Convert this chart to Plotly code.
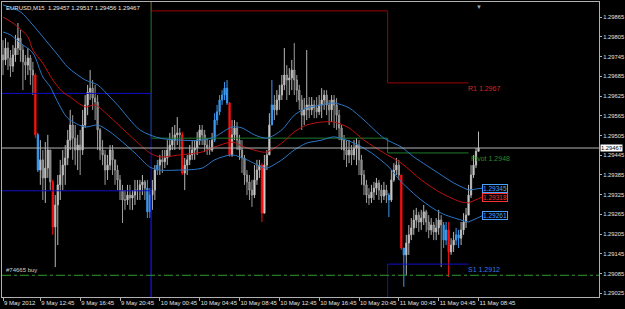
import plotly.graph_objects as go

# ---------------- data (EURUSD M15, bar 0 = 9 May 2012 09:00) ----------------
first_open = 1.29750
closes = [1.29735,1.29771,1.29741,1.29716,1.29750,1.29771,1.29801,1.29765,1.29729,1.29719,
          1.29741,1.29704,1.29689,1.29507,1.29400,1.29431,1.29376,1.29406,1.29461,1.29364,
          1.29227,1.29294,1.29355,1.29385,1.29415,1.29437,1.29491,1.29537,1.29497,1.29461,
          1.29476,1.29461,1.29537,1.29598,1.29637,1.29649,1.29619,1.29607,1.29522,1.29461,
          1.29446,1.29400,1.29415,1.29461,1.29431,1.29400,1.29370,1.29339,1.29309,1.29309,
          1.29324,1.29315,1.29324,1.29339,1.29339,1.29355,1.29364,1.29345,1.29273,1.29324,
          1.29339,1.29400,1.29415,1.29431,1.29425,1.29437,1.29461,1.29476,1.29491,1.29507,
          1.29513,1.29507,1.29391,1.29415,1.29431,1.29446,1.29461,1.29467,1.29491,1.29522,
          1.29507,1.29476,1.29467,1.29461,1.29491,1.29552,1.29577,1.29613,1.29628,1.29649,
          1.29604,1.29446,1.29507,1.29528,1.29491,1.29461,1.29437,1.29385,1.29364,1.29339,
          1.29324,1.29370,1.29400,1.29415,1.29269,1.29415,1.29446,1.29537,1.29598,1.29583,
          1.29613,1.29628,1.29659,1.29689,1.29674,1.29680,1.29704,1.29674,1.29643,1.29613,
          1.29567,1.29583,1.29598,1.29583,1.29598,1.29589,1.29577,1.29598,1.29613,1.29628,
          1.29598,1.29583,1.29613,1.29598,1.29567,1.29528,1.29491,1.29461,1.29446,1.29461,
          1.29446,1.29467,1.29476,1.29431,1.29385,1.29355,1.29324,1.29315,1.29333,1.29345,
          1.29361,1.29339,1.29321,1.29339,1.29324,1.29309,1.29370,1.29400,1.29415,1.29385,
          1.29163,1.29142,1.29178,1.29203,1.29224,1.29248,1.29263,1.29242,1.29254,1.29273,
          1.29242,1.29218,1.29233,1.29212,1.29224,1.29248,1.29233,1.29187,1.29218,1.29151,
          1.29172,1.29187,1.29203,1.29193,1.29218,1.29242,1.29263,1.29324,1.29385,1.29415,
          1.29457,1.29467]
highs = [1.29795,1.29801,1.29789,1.29765,1.29780,1.29811,1.29847,1.29826,1.29780,1.29750,
         1.29771,1.29750,1.29729,1.29695,1.29513,1.29491,1.29461,1.29485,1.29507,1.29461,
         1.29370,1.29324,1.29385,1.29431,1.29461,1.29476,1.29522,1.29583,1.29567,1.29537,
         1.29507,1.29522,1.29583,1.29628,1.29659,1.29704,1.29674,1.29659,1.29628,1.29528,
         1.29491,1.29461,1.29446,1.29476,1.29476,1.29431,1.29415,1.29385,1.29355,1.29339,
         1.29355,1.29355,1.29339,1.29370,1.29370,1.29370,1.29385,1.29370,1.29370,1.29345,
         1.29370,1.29415,1.29431,1.29446,1.29461,1.29461,1.29491,1.29513,1.29531,1.29537,
         1.29561,1.29528,1.29516,1.29437,1.29446,1.29476,1.29491,1.29491,1.29516,1.29537,
         1.29537,1.29522,1.29497,1.29491,1.29513,1.29573,1.29598,1.29628,1.29643,1.29668,
         1.29674,1.29607,1.29552,1.29552,1.29546,1.29507,1.29491,1.29446,1.29400,1.29385,
         1.29370,1.29415,1.29431,1.29431,1.29421,1.29446,1.29461,1.29573,1.29674,1.29628,
         1.29643,1.29659,1.29689,1.29771,1.29719,1.29710,1.29735,1.29786,1.29689,1.29659,
         1.29628,1.29619,1.29765,1.29622,1.29622,1.29613,1.29622,1.29628,1.29649,1.29643,
         1.29643,1.29613,1.29628,1.29628,1.29619,1.29583,1.29537,1.29507,1.29491,1.29491,
         1.29476,1.29491,1.29497,1.29491,1.29446,1.29400,1.29370,1.29345,1.29355,1.29364,
         1.29376,1.29370,1.29355,1.29364,1.29355,1.29330,1.29400,1.29421,1.29437,1.29431,
         1.29385,1.29163,1.29203,1.29233,1.29254,1.29279,1.29285,1.29273,1.29279,1.29294,
         1.29279,1.29263,1.29254,1.29242,1.29254,1.29279,1.29263,1.29242,1.29242,1.29242,
         1.29193,1.29212,1.29224,1.29218,1.29242,1.29269,1.29285,1.29355,1.29415,1.29446,
         1.29467,1.29517]
lows = [1.29689,1.29719,1.29704,1.29683,1.29698,1.29729,1.29750,1.29729,1.29643,1.29674,
        1.29689,1.29659,1.29628,1.29497,1.29394,1.29355,1.29309,1.29300,1.29376,1.29339,
        1.29203,1.29105,1.29172,1.29309,1.29339,1.29355,1.29415,1.29461,1.29431,1.29415,
        1.29400,1.29385,1.29446,1.29528,1.29567,1.29613,1.29583,1.29552,1.29461,1.29431,
        1.29415,1.29355,1.29370,1.29400,1.29385,1.29355,1.29339,1.29309,1.29239,1.29279,
        1.29294,1.29279,1.29279,1.29294,1.29309,1.29309,1.29324,1.29309,1.29254,1.29254,
        1.29279,1.29309,1.29385,1.29385,1.29391,1.29406,1.29415,1.29440,1.29461,1.29461,
        1.29476,1.29461,1.29385,1.29339,1.29385,1.29415,1.29431,1.29431,1.29446,1.29476,
        1.29476,1.29455,1.29446,1.29446,1.29455,1.29485,1.29537,1.29567,1.29598,1.29613,
        1.29598,1.29440,1.29440,1.29491,1.29461,1.29431,1.29391,1.29355,1.29324,1.29309,
        1.29288,1.29315,1.29355,1.29376,1.29242,1.29269,1.29400,1.29446,1.29537,1.29552,
        1.29567,1.29583,1.29613,1.29643,1.29613,1.29628,1.29643,1.29628,1.29607,1.29583,
        1.29522,1.29537,1.29552,1.29558,1.29567,1.29558,1.29558,1.29567,1.29558,1.29583,
        1.29567,1.29537,1.29546,1.29528,1.29522,1.29491,1.29461,1.29431,1.29409,1.29421,
        1.29415,1.29431,1.29415,1.29385,1.29355,1.29324,1.29300,1.29294,1.29300,1.29309,
        1.29324,1.29309,1.29300,1.29309,1.29300,1.29257,1.29303,1.29364,1.29385,1.29370,
        1.29157,1.29045,1.29081,1.29142,1.29187,1.29203,1.29224,1.29212,1.29218,1.29233,
        1.29212,1.29193,1.29203,1.29187,1.29187,1.29203,1.29105,1.29163,1.29172,1.29075,
        1.29142,1.29151,1.29172,1.29163,1.29172,1.29203,1.29224,1.29263,1.29315,1.29376,
        1.29406,1.29456]
red_bars = [13, 20, 72, 91, 104, 160, 179]
blue_bars = [14, 58, 59, 62, 85, 86, 87, 88, 89, 90, 108, 155, 161, 177, 178, 182, 183]

# envelope lines (bar index, price)
upper_idx = [0,7,12,16,22,26,33,38,43,46,55,63,71,80,85,92,96,101,106,112,117,122,128,133,139,145,153,160,165,173,181,187]
upper_val = [1.29902,1.29881,1.29841,1.29805,1.29750,1.29713,1.29674,1.29659,1.29622,1.29598,
             1.29522,1.29497,1.29491,1.29491,1.29501,1.29531,1.29528,1.29507,1.29497,1.29522,
             1.29567,1.29589,1.29598,1.29604,1.29589,1.29552,1.29497,1.29470,1.29440,1.29400,
             1.29361,1.29339]
mid_idx = [0,4,10,12,16,20,24,27,33,37,43,53,59,63,71,80,85,92,97,104,106,112,117,122,128,133,139,145,153,160,168,176,184,187]
mid_val = [1.29865,1.29847,1.29805,1.29765,1.29725,1.29674,1.29637,1.29622,1.29592,1.29598,
           1.29561,1.29491,1.29452,1.29440,1.29446,1.29455,1.29470,1.29485,1.29470,1.29455,
           1.29455,1.29482,1.29516,1.29537,1.29546,1.29546,1.29528,1.29491,1.29452,1.29421,
           1.29370,1.29330,1.29303,1.29300]
lower_idx = [0,3,7,12,16,19,21,26,33,38,43,53,59,63,71,80,85,92,98,104,106,112,117,122,128,133,141,148,155,160,168,176,184,187]
lower_val = [1.29820,1.29811,1.29786,1.29756,1.29683,1.29653,1.29622,1.29558,1.29531,1.29537,
             1.29516,1.29452,1.29409,1.29400,1.29400,1.29406,1.29431,1.29446,1.29431,1.29409,
             1.29406,1.29431,1.29461,1.29482,1.29491,1.29501,1.29482,1.29452,1.29409,1.29364,
             1.29309,1.29269,1.29248,1.29242]
band_labels = [1.29345, 1.29318, 1.29261]

# daily pivot levels (None = off the visible price range)
day_edges = [-1, 59.5, 154.5, 187]
r1_vals = [None, 1.29884, 1.29665]
pivot_vals = [None, 1.29497, 1.29452]
s1_vals = [1.29633, None, 1.29114]
s2_vals = [1.29337, None, None]
r1_text, pivot_text, s1_text = "R1 1.2967", "Pivot 1.2948", "S1 1.2912"
order_price = 1.2908
order_text = "#74665 buy"

x_ticks = [0, 15, 31, 47, 63, 79, 95, 111, 127, 143, 159, 175, 191]
x_labels = ["9 May 2012", "9 May 12:45", "9 May 16:45", "9 May 20:45", "10 May 00:45",
            "10 May 04:45", "10 May 08:45", "10 May 12:45", "10 May 16:45", "10 May 20:45",
            "11 May 00:45", "11 May 04:45", "11 May 08:45"]
y_ticks = [1.29025, 1.29085, 1.29145, 1.29205, 1.29265, 1.29325, 1.29385, 1.29445,
           1.29505, 1.29565, 1.29625, 1.29685, 1.29745, 1.29805, 1.29865]

# ---------------- figure ----------------
opens = [first_open] + closes[:-1]
n = len(closes)
idx = list(range(n))
FONT = "Liberation Sans"
Y_LO, Y_HI = 1.29014, 1.29911
OFF_LO, OFF_HI = 1.2890, 1.3005

fig = go.Figure()

def subset(ids):
    return dict(x=[idx[i] for i in ids], open=[opens[i] for i in ids], high=[highs[i] for i in ids],
                low=[lows[i] for i in ids], close=[closes[i] for i in ids])

normal = [i for i in idx if i not in red_bars and i not in blue_bars]
fig.add_trace(go.Candlestick(**subset(normal), whiskerwidth=0,
              increasing=dict(line=dict(color="#b8b8b8", width=1), fillcolor="#e6e6e6"),
              decreasing=dict(line=dict(color="#9c9c9c", width=1), fillcolor="#6a6a6a"),
              hoverinfo="skip", showlegend=False))
for ids, col in ((red_bars, "#ff1010"), (blue_bars, "#3a9af0")):
    fig.add_trace(go.Candlestick(**subset(ids), whiskerwidth=0,
                  increasing=dict(line=dict(color=col, width=1), fillcolor=col),
                  decreasing=dict(line=dict(color=col, width=1), fillcolor=col),
                  hoverinfo="skip", showlegend=False))

def step_line(vals, missing):
    xs, ys = [], []
    for k, v in enumerate(vals):
        v = missing if v is None else v
        xs += [day_edges[k], day_edges[k + 1]]
        ys += [v, v]
    return xs, ys

for vals, miss, col in ((r1_vals, OFF_HI, "#a00000"), (pivot_vals, OFF_HI, "#1f7a2a"),
                        (s1_vals, OFF_LO, "#1010c8"), (s2_vals, OFF_LO, "#1010c8")):
    xs, ys = step_line(vals, miss)
    fig.add_trace(go.Scatter(x=xs, y=ys, mode="lines", line=dict(color=col, width=1),
                             hoverinfo="skip", showlegend=False))

# bid line and order line
fig.add_hline(y=closes[-1], line=dict(color="#b4b4b4", width=1))
fig.add_hline(y=order_price, line=dict(color="#2e9a2e", width=1, dash="dashdot"))

label_x = 192.5
for bx, bv, lbl, col, tcol in ((upper_idx, upper_val, band_labels[0], "#2a78c8", "#4aa0ff"),
                               (mid_idx, mid_val, band_labels[1], "#c01010", "#ff3030"),
                               (lower_idx, lower_val, band_labels[2], "#2a78c8", "#4aa0ff")):
    fig.add_trace(go.Scatter(x=bx, y=bv, mode="lines", line=dict(color=col, width=1, shape="spline", smoothing=0.8),
                             hoverinfo="skip", showlegend=False))
    fig.add_trace(go.Scatter(x=[bx[-1], label_x], y=[bv[-1], lbl], mode="lines",
                             line=dict(color=col, width=1), hoverinfo="skip", showlegend=False))
    fig.add_annotation(x=label_x, y=lbl, text=f"{lbl:.5f}", showarrow=False, xanchor="left",
                       font=dict(family=FONT, size=6.5, color=tcol), bgcolor="#000000",
                       bordercolor=tcol, borderwidth=1, borderpad=0)

fig.add_annotation(x=186, y=r1_vals[2], text=r1_text, showarrow=False, xanchor="left", yanchor="top",
                   font=dict(family=FONT, size=7, color="#d02828"))
fig.add_annotation(x=187, y=pivot_vals[2], text=pivot_text, showarrow=False, xanchor="left", yanchor="top",
                   font=dict(family=FONT, size=7, color="#2a8a2a"))
fig.add_annotation(x=186, y=s1_vals[2], text=s1_text, showarrow=False, xanchor="left", yanchor="top",
                   font=dict(family=FONT, size=7, color="#3a78e0"))
fig.add_annotation(x=0.5, y=order_price, text=order_text, showarrow=False, xanchor="left", yanchor="bottom",
                   font=dict(family=FONT, size=6, color="#d0d0d0"))
header = f"EURUSD,M15  {opens[-1]:.5f} {highs[-1]:.5f} {lows[-1]:.5f} {closes[-1]:.5f}"
fig.add_annotation(xref="paper", yref="paper", x=0.004, y=0.995, text=header, showarrow=False,
                   xanchor="left", yanchor="top", font=dict(family=FONT, size=6, color="#e8e8e8"))
fig.add_annotation(xref="paper", x=1, y=closes[-1], text=f"{closes[-1]:.5f}", showarrow=False,
                   xanchor="left", xshift=1, font=dict(family=FONT, size=5.8, color="#000000"),
                   bgcolor="#ffffff", borderpad=0)
fig.add_annotation(x=n - 1, yref="paper", y=1, text="▼", showarrow=False, yanchor="top",
                   font=dict(family=FONT, size=6, color="#9aa8b0"))

fig.update_layout(
    width=625, height=309, margin=dict(l=2, r=26, t=2, b=12, autoexpand=False),
    paper_bgcolor="#000000", plot_bgcolor="#000000", showlegend=False,
    xaxis=dict(range=[-0.4, 239.4], rangeslider=dict(visible=False), showgrid=False, zeroline=False,
               tickmode="array", tickvals=x_ticks, ticktext=x_labels, ticks="outside", ticklen=3,
               tickcolor="#b0b0b0", ticklabelposition="outside right", tickangle=0, automargin=False,
               ticklabelstandoff=0,
               tickfont=dict(family=FONT, size=6, color="#e0e0e0"),
               showline=True, linecolor="#b0b0b0", mirror=True),
    yaxis=dict(range=[Y_LO, Y_HI], side="right", showgrid=False, zeroline=False, automargin=False,
               tickmode="array", tickvals=y_ticks, ticktext=[f"{v:.5f}" for v in y_ticks],
               ticks="outside", ticklen=2, tickcolor="#b0b0b0", ticklabelstandoff=0,
               tickfont=dict(family=FONT, size=5.8, color="#e0e0e0"),
               showline=True, linecolor="#b0b0b0", mirror=True),
)
fig.write_html("out.html")
